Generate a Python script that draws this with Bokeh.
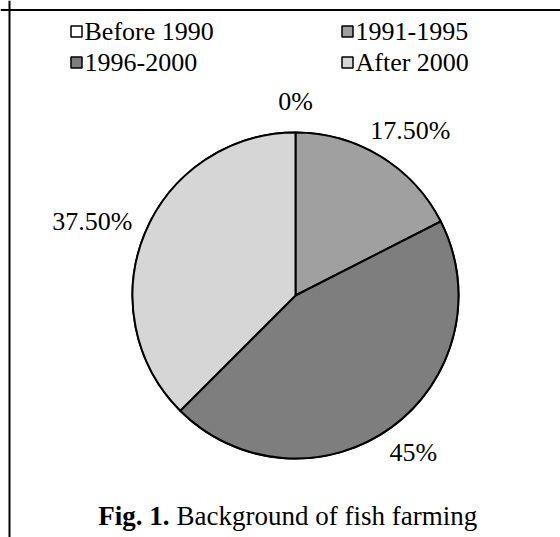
import numpy as np
from bokeh.plotting import figure
from bokeh.models import ColumnDataSource, Range1d, Span
from bokeh.core.properties import value
from bokeh.embed import file_html
from bokeh.resources import INLINE

# ---- data ----
categories = ["Before 1990", "1991-1995", "1996-2000", "After 2000"]
shares = [0.0, 17.5, 45.0, 37.5]
labels = ["0%", "17.50%", "45%", "37.50%"]
colors = ["#ffffff", "#a0a0a0", "#7e7e7e", "#d6d6d6"]
caption_bold = "Fig. 1."
caption_text = "Background of fish farming"

W, H = 560, 537
FONT_NAME = "Liberation Serif"
FS = 26

p = figure(width=W, height=H, x_range=Range1d(0, W), y_range=Range1d(0, H),
           output_backend="svg", toolbar_location=None, min_border=0,
           background_fill_color="white", border_fill_color="white")
p.outline_line_color = None
p.xaxis.visible = False
p.yaxis.visible = False
p.grid.visible = False

# frame lines (top and left)
p.add_layout(Span(location=H - 9.5, dimension="width", line_color="black", line_width=2))
p.add_layout(Span(location=9, dimension="height", line_color="black", line_width=2))

# ---- pie ----
cx, cy, R = 295, 242, 163
frac = np.array(shares) / sum(shares)
cum = np.concatenate([[0], np.cumsum(frac)])
start = np.pi / 2 - cum[:-1] * 2 * np.pi
end = np.pi / 2 - cum[1:] * 2 * np.pi
src = ColumnDataSource(dict(cat=categories, start=list(start), end=list(end), color=colors))
p.wedge(x=cx, y=cy, radius=R, start_angle="start", end_angle="end", direction="clock",
        fill_color="color", line_color="black", line_width=2, source=src)

# labels placed outside the slice ends (box edge a fixed gap from the rim)
mid = (cum[:-1] + cum[1:]) / 2
ang = np.pi / 2 - mid * 2 * np.pi
ux, uy = np.cos(ang), np.sin(ang)
gap = 18
for i, t in enumerate(labels):
    tw = len(t) * 0.5 * FS      # approximate text width
    lx = cx + ux[i] * (R + gap + tw / 2)
    ly = cy + uy[i] * (R + gap + FS / 2)
    p.text(x=[float(lx)], y=[float(ly)], text=[t], text_font=value(FONT_NAME),
           text_font_size=f"{FS}px", text_align="center", text_baseline="middle",
           text_color="black")

# ---- legend (2 columns) ----
for i, (cat, col) in enumerate(zip(categories, colors)):
    bx = 76 if i % 2 == 0 else 347
    by = 506 if i // 2 == 0 else 475
    p.rect(x=[bx], y=[by], width=11, height=11, fill_color=col, line_color="black",
           line_width=1.5)
    p.text(x=[bx + 8], y=[by], text=[cat], text_font=value(FONT_NAME),
           text_font_size=f"{FS}px", text_align="left", text_baseline="middle",
           text_color="black")

# ---- caption ----
p.text(x=[169], y=[22], text=[caption_bold], text_font=value(FONT_NAME),
       text_font_size="27px", text_font_style="bold", text_align="right",
       text_baseline="middle", text_color="black")
p.text(x=[176], y=[22], text=[caption_text], text_font=value(FONT_NAME),
       text_font_size="27px", text_align="left", text_baseline="middle", text_color="black")

open("out.html", "w").write(file_html(p, INLINE))
